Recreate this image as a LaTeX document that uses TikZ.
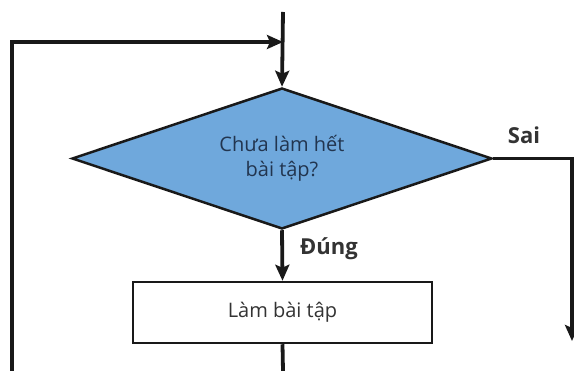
\documentclass[tikz,border=0pt]{standalone}
\usepackage{fontspec}
\setmainfont{Open Sans}
\usetikzlibrary{shapes.geometric,arrows.meta}
\definecolor{dfill}{HTML}{6FA8DC}
\definecolor{dtext}{HTML}{22354F}
\definecolor{ltext}{HTML}{333333}
\tikzset{
  conn/.style={line width=3.8pt, draw=black!90},
  arr/.style={conn, -{Stealth[length=16pt,width=14pt,inset=3pt]}},
  decision/.style={shape=diamond, aspect=2.98, draw=black!90, line width=2.5pt, fill=dfill,
     minimum width=420pt, minimum height=141pt, inner sep=0pt,
     text=dtext, font=\fontsize{20}{25}\selectfont, align=center},
  process/.style={shape=rectangle, draw=black!90, line width=2.5pt, fill=white,
     minimum width=299pt, minimum height=61pt, inner sep=0pt,
     text=ltext, font=\fontsize{20}{24}\selectfont},
  lbl/.style={text=ltext, font=\bfseries\fontsize{22}{26}\selectfont, inner sep=0pt}
}
\begin{document}
\begin{tikzpicture}[x=1pt,y=-1pt]
\useasboundingbox (0,0) rectangle (574,371);
\coordinate (start) at (283,12);
\node[decision] (d) at (282,158.5) {Chưa làm hết\\bài tập?};
\node[process] (p) at (282.5,312.5) {Làm bài tập};
\coordinate (join) at (283,42);
\coordinate (lt) at (12,42);
\coordinate (lb) at (12,371);
\coordinate (pb) at (283,371);
\coordinate (rc) at (572,158.5);
\coordinate (re) at (572,341);
\draw[arr] (start) -- (d.north);
\draw[arr] (lb) -- (lt) -- (join);
\draw[arr] (d.south) -- (p.north);
\draw[conn] (p.south) -- (pb);
\draw[arr] (d.east) -- (rc) -- (re);
\node[lbl] (sai) at (524,135) {Sai};
\node[lbl] (dung) at (329,249) {Đúng};
\end{tikzpicture}
\end{document}
